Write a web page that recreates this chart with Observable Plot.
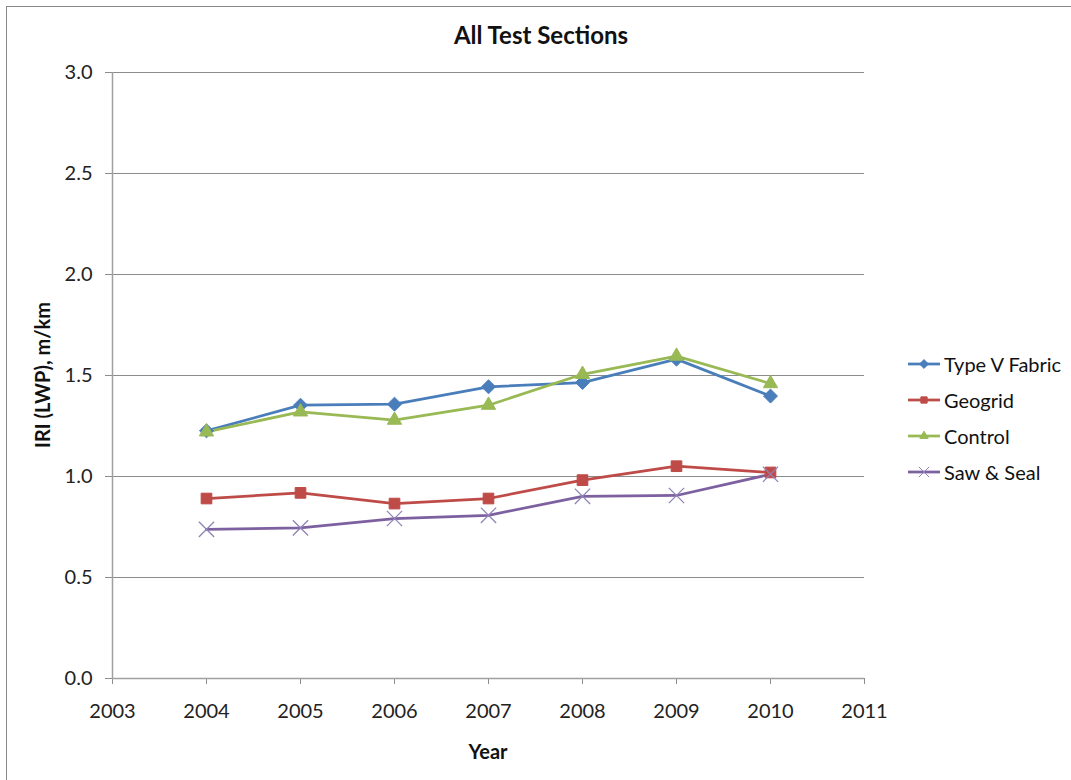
<!DOCTYPE html>
<html>
<head>
<meta charset="utf-8">
<script src="https://cdn.jsdelivr.net/npm/d3@7"></script>
<script src="https://cdn.jsdelivr.net/npm/@observablehq/plot@0.6"></script>
<style>
  body { margin: 0; background: #fff; font-family: Lato, "Open Sans", sans-serif; }
  #wrap { position: relative; width: 1071px; height: 780px; overflow: hidden; }
  #frame { position: absolute; left: 6px; top: 6px; width: 1080px; height: 800px; border: 1px solid #8a8a8a; box-sizing: border-box; }
  #chart { position: absolute; left: 0; top: 0; }
  #title { position: absolute; left: 0; width: 1082px; top: 20px; text-align: center; font-weight: bold; font-size: 24px; color: #111; }
  #xlabel { position: absolute; left: 112px; width: 752px; top: 739px; text-align: center; font-weight: bold; font-size: 20px; color: #111; }
  #ylabel { position: absolute; left: 42px; top: 375px; transform: translate(-50%, -50%) rotate(-90deg); white-space: nowrap; font-weight: bold; font-size: 20px; color: #111; }
  #legend { position: absolute; left: 908px; top: 346px; font-size: 20px; color: #111; }
  #legend .row { display: flex; align-items: center; height: 36px; }
  #legend svg { margin-right: 2px; }
</style>
</head>
<body>
<div id="wrap">
  <div id="frame"></div>
  <div id="chart"></div>
  <div id="title">All Test Sections</div>
  <div id="xlabel">Year</div>
  <div id="ylabel">IRI (LWP), m/km</div>
  <div id="legend"></div>
</div>
<script>
// datos
const years = [2004, 2005, 2006, 2007, 2008, 2009, 2010]
const typeV = [1.226, 1.353, 1.358, 1.444, 1.465, 1.581, 1.398]
const geogrid = [0.891, 0.919, 0.866, 0.891, 0.982, 1.051, 1.020]
const control = [1.221, 1.320, 1.279, 1.353, 1.506, 1.596, 1.460]
const sawSeal = [0.738, 0.746, 0.792, 0.808, 0.902, 0.906, 1.011]

const seriesNames = ['Type V Fabric', 'Geogrid', 'Control', 'Saw & Seal']
const seriesValues = [typeV, geogrid, control, sawSeal]
const colors = ['#4a7ebb', '#be4b48', '#98b954', '#7d60a0']
const xTicks = [2003, 2004, 2005, 2006, 2007, 2008, 2009, 2010, 2011]
const yTicks = [0, 0.5, 1, 1.5, 2, 2.5, 3]

// tabla larga para Plot
const data = seriesNames.flatMap((name, i) =>
  years.map((year, j) => ({ serie: name, year: year, value: seriesValues[i][j] }))
)
const bySerie = name => data.filter(d => d.serie === name)

let chart = Plot.plot({
  width: 1071,
  height: 780,
  marginLeft: 112,
  marginRight: 207,
  marginTop: 72,
  marginBottom: 102,
  style: { fontFamily: 'Lato, "Open Sans", sans-serif', fontSize: '20px', color: '#222', background: 'transparent', overflow: 'visible' },
  x: { domain: [2003, 2011] },
  y: { domain: [0, 3] },
  marks: [
    Plot.gridY(yTicks, { stroke: '#8c8c8c', strokeOpacity: 1, strokeWidth: 1 }),
    Plot.axisY(yTicks, { tickFormat: d3.format('.1f'), tickSize: 7, tickPadding: 13, stroke: '#8c8c8c', label: null }),
    Plot.axisX(xTicks, { tickFormat: 'd', tickSize: 6, tickPadding: 19, stroke: '#8c8c8c', label: null }),
    Plot.ruleX([2003], { stroke: '#a0a0a0', strokeWidth: 1.5 }),
    Plot.ruleY([0], { stroke: '#a0a0a0', strokeWidth: 1.5 }),
    // lineas de cada serie
    ...seriesNames.map((name, i) => Plot.line(bySerie(name), {
      x: 'year', y: 'value', stroke: colors[i], strokeWidth: 2.75
    })),
    // marcadores
    Plot.dot(bySerie('Type V Fabric'), { x: 'year', y: 'value', symbol: 'diamond2', r: 6.3, fill: colors[0], stroke: colors[0], strokeWidth: 1 }),
    Plot.dot(bySerie('Geogrid'), { x: 'year', y: 'value', symbol: 'square2', r: 6.8, fill: colors[1], stroke: colors[1], strokeWidth: 1 }),
    Plot.dot(bySerie('Control'), { x: 'year', y: 'value', symbol: 'triangle2', r: 6.8, fill: colors[2], stroke: colors[2], strokeWidth: 1 }),
    Plot.dot(bySerie('Saw & Seal'), { x: 'year', y: 'value', symbol: 'times', r: 7, fill: 'none', stroke: '#8f84b8', strokeWidth: 1.3 }),
  ],
})
d3.select('#chart').append(() => chart)

// leyenda a la derecha
const symbolTypes = [d3.symbolDiamond2, d3.symbolSquare2, d3.symbolTriangle2, d3.symbolTimes]
seriesNames.forEach((name, i) => {
  const row = d3.select('#legend').append('div').attr('class', 'row')
  const svg = row.append('svg').attr('width', 34).attr('height', 14)
  svg.append('line').attr('x1', 0).attr('x2', 32).attr('y1', 7).attr('y2', 7)
    .attr('stroke', colors[i]).attr('stroke-width', 2.75)
  const isX = i === 3
  svg.append('path').attr('transform', 'translate(16,7)')
    .attr('d', d3.symbol(symbolTypes[i], isX ? 70 : 50)())
    .attr('fill', isX ? 'none' : colors[i])
    .attr('stroke', isX ? '#8f84b8' : colors[i])
  row.append('span').text(name)
})
</script>
</body>
</html>
